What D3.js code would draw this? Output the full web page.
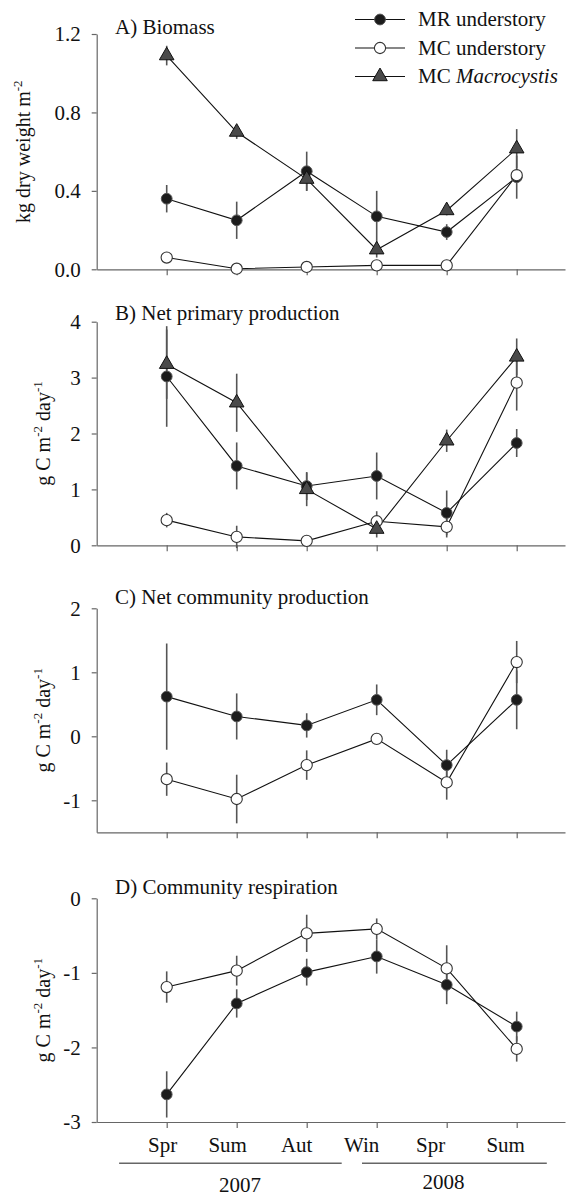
<!DOCTYPE html>
<html>
<head>
<meta charset="utf-8">
<script src="https://cdn.jsdelivr.net/npm/d3@7"></script>
<style>
  html, body { margin: 0; padding: 0; background: #fff; }
  svg { display: block; }
  svg text { font-family: "Liberation Serif", "Times New Roman", serif; }
</style>
</head>
<body>
<svg id="chart" width="584" height="1196"></svg>
<script>
// Sampling seasons and years
const seasons = ["Spr", "Sum", "Aut", "Win", "Spr", "Sum"];
const years = ["2007", "2008"];
const seriesNames = ["MR understory", "MC understory", "MC Macrocystis"];

// A) Biomass, kg dry weight m-2 (mean, SE)
const biomassMR      = [0.36, 0.25, 0.50, 0.27, 0.19, 0.47];
const biomassMRErr   = [0.07, 0.095, 0.10, 0.13, 0.04, 0.11];
const biomassMC      = [0.06, 0.003, 0.012, 0.02, 0.02, 0.48];
const biomassMCErr   = [0.012, 0.004, 0.006, 0.008, 0.008, 0.03];
const biomassMacro   = [1.09, 0.70, 0.46, 0.10, 0.30, 0.615];
const biomassMacroErr= [0.05, 0.035, 0.06, 0.04, 0.025, 0.10];

// B) Net primary production, g C m-2 day-1
const nppMR      = [3.02, 1.42, 1.06, 1.24, 0.58, 1.83];
const nppMRErr   = [0.90, 0.42, 0.25, 0.42, 0.40, 0.25];
const nppMC      = [0.45, 0.15, 0.08, 0.43, 0.33, 2.91];
const nppMCErr   = [0.13, 0.20, 0.05, 0.18, 0.19, 0.50];
const nppMacro   = [3.24, 2.55, 1.00, 0.29, 1.87, 3.37];
const nppMacroErr= [0.62, 0.52, 0.30, 0.15, 0.20, 0.33];

// C) Net community production, g C m-2 day-1
const ncpMR    = [0.62, 0.31, 0.17, 0.57, -0.45, 0.57];
const ncpMRErr = [0.83, 0.36, 0.19, 0.24, 0.24, 0.46];
const ncpMC    = [-0.67, -0.98, -0.45, -0.04, -0.72, 1.16];
const ncpMCErr = [0.26, 0.38, 0.23, 0.03, 0.27, 0.33];

// D) Community respiration, g C m-2 day-1
const respMR    = [-2.63, -1.41, -0.99, -0.78, -1.16, -1.72];
const respMRErr = [0.31, 0.19, 0.18, 0.23, 0.26, 0.20];
const respMC    = [-1.19, -0.97, -0.47, -0.41, -0.94, -2.02];
const respMCErr = [0.21, 0.20, 0.25, 0.14, 0.31, 0.17];

// Y ticks per panel
const ticksA = [0, 0.4, 0.8, 1.2];
const ticksB = [0, 1, 2, 3, 4];
const ticksC = [-1, 0, 1, 2];
const ticksD = [-3, -2, -1, 0];

// ---------------- layout ----------------
const svg = d3.select("#chart");
const SERIF = "Liberation Serif, Times New Roman, serif";
const FONT = 21;
const axisColor = "#666";
const errColor = "#555";

// shared x scale: season index -> pixel
const x = d3.scaleLinear().domain([-1, 5.69]).range([96.7, 565]);

const panels = [
  { title: "A) Biomass", titleY: 34, top: 34, bottom: 269.3, domain: [0, 1.2], ticks: ticksA, fmt: d3.format(".1f"),
    ytitleX: 30,
    series: [
      { kind: "filled", v: biomassMR, e: biomassMRErr },
      { kind: "open", v: biomassMC, e: biomassMCErr },
      { kind: "tri", v: biomassMacro, e: biomassMacroErr }
    ] },
  { title: "B) Net primary production", titleY: 320, top: 321.7, bottom: 545.3, domain: [0, 4], ticks: ticksB, fmt: d3.format("d"),
    ytitleX: 50,
    series: [
      { kind: "filled", v: nppMR, e: nppMRErr },
      { kind: "open", v: nppMC, e: nppMCErr },
      { kind: "tri", v: nppMacro, e: nppMacroErr }
    ] },
  { title: "C) Net community production", titleY: 603.5, top: 608.3, bottom: 832.3, domain: [-1.5, 2], ticks: ticksC, fmt: d3.format("d"),
    ytitleX: 50,
    series: [
      { kind: "filled", v: ncpMR, e: ncpMRErr },
      { kind: "open", v: ncpMC, e: ncpMCErr }
    ] },
  { title: "D) Community respiration", titleY: 893.5, top: 898.3, bottom: 1122, domain: [-3, 0], ticks: ticksD, fmt: d3.format("d"),
    ytitleX: 50,
    series: [
      { kind: "filled", v: respMR, e: respMRErr },
      { kind: "open", v: respMC, e: respMCErr }
    ] }
];

const triSym = d3.symbol().type(d3.symbolTriangle).size(92);

function drawMarker(g, kind, cx, cy) {
  if (kind === "filled") {
    g.append("circle").attr("cx", cx).attr("cy", cy).attr("r", 5.4)
      .attr("fill", "#1c1c1c").attr("stroke", "#555").attr("stroke-width", 1);
  } else if (kind === "open") {
    g.append("circle").attr("cx", cx).attr("cy", cy).attr("r", 5.6)
      .attr("fill", "#fff").attr("stroke", "#333").attr("stroke-width", 1.1);
  } else {
    g.append("path").attr("d", triSym).attr("transform", `translate(${cx},${cy})`)
      .attr("fill", "#4a4a4a").attr("stroke", "#111").attr("stroke-width", 1);
  }
}

panels.forEach((p, pi) => {
  const y = d3.scaleLinear().domain(p.domain).range([p.bottom, p.top]);
  const g = svg.append("g");

  // y axis
  const yAxis = d3.axisLeft(y).tickValues(p.ticks).tickSizeOuter(0).tickSizeInner(5).tickPadding(11)
    .tickFormat(d => p.fmt(d).replace("\u2212", "-"));
  const ya = g.append("g").attr("transform", `translate(${x(-1)},0)`).call(yAxis)
    .attr("font-family", SERIF).attr("font-size", FONT);
  ya.select(".domain").attr("stroke", axisColor).attr("stroke-width", 1.2);
  ya.selectAll(".tick line").attr("stroke", axisColor).attr("stroke-width", 1.2);
  ya.selectAll(".tick text").attr("fill", "#111").attr("font-size", FONT).attr("font-family", SERIF);

  // x axis
  const xAxis = d3.axisBottom(x).tickValues(d3.range(seasons.length)).tickSizeOuter(0).tickSizeInner(6)
    .tickFormat("");
  const xa = g.append("g").attr("transform", `translate(0,${p.bottom})`).call(xAxis);
  xa.select(".domain").attr("stroke", axisColor).attr("stroke-width", 1.2);
  xa.selectAll(".tick line").attr("stroke", axisColor).attr("stroke-width", 1.2);

  // panel title
  g.append("text").attr("x", 115).attr("y", p.titleY)
    .attr("font-family", SERIF).attr("font-size", FONT).attr("fill", "#111").text(p.title);

  // y axis title
  const cy = (p.top + p.bottom) / 2;
  const yt = g.append("text").attr("transform", `translate(${p.ytitleX},${cy}) rotate(-90)`)
    .attr("text-anchor", "middle").attr("font-family", SERIF).attr("font-size", 20).attr("fill", "#111");
  if (pi === 0) {
    yt.append("tspan").text("kg dry weight m");
    yt.append("tspan").attr("font-size", 13).attr("dy", -8).text("-2");
  } else {
    yt.append("tspan").text("g C m");
    yt.append("tspan").attr("font-size", 13).attr("dy", -8).text("-2");
    yt.append("tspan").attr("dy", 8).text(" day");
    yt.append("tspan").attr("font-size", 13).attr("dy", -8).text("-1");
  }

  const line = d3.line().x((d, i) => x(i)).y(d => y(d));

  // error bars
  p.series.forEach(s => {
    g.append("g").selectAll("line").data(s.v).join("line")
      .attr("x1", (d, i) => x(i)).attr("x2", (d, i) => x(i))
      .attr("y1", (d, i) => y(d - s.e[i])).attr("y2", (d, i) => y(d + s.e[i]))
      .attr("stroke", errColor).attr("stroke-width", 1.6);
  });
  // connecting lines
  p.series.forEach(s => {
    g.append("path").datum(s.v).attr("d", line)
      .attr("fill", "none").attr("stroke", "#111").attr("stroke-width", 1.1);
  });
  // markers
  p.series.forEach(s => {
    const mg = g.append("g");
    s.v.forEach((d, i) => drawMarker(mg, s.kind, x(i), y(d)));
  });

  // season labels under bottom panel
  if (pi === panels.length - 1) {
    const nudge = [-4, -9, -10, -15, -16, -11];
    g.append("g").selectAll("text").data(seasons).join("text")
      .attr("x", (d, i) => x(i) + nudge[i]).attr("y", p.bottom + 29.5)
      .attr("text-anchor", "middle").attr("font-family", SERIF).attr("font-size", FONT)
      .attr("fill", "#111").text(d => d);

    // year brackets
    const spans = [[-0.68, 2.5], [2.79, 5.43]];
    const yearBase = [1191.5, 1188.5];
    spans.forEach((sp, k) => {
      g.append("line").attr("x1", x(sp[0])).attr("x2", x(sp[1]))
        .attr("y1", 1163.3).attr("y2", 1163.3).attr("stroke", axisColor).attr("stroke-width", 1.5);
      g.append("text").attr("x", (x(sp[0]) + x(sp[1])) / 2 + (k === 0 ? 9.5 : -11))
        .attr("y", yearBase[k]).attr("text-anchor", "middle").attr("font-family", SERIF)
        .attr("font-size", FONT).attr("fill", "#111").text(years[k]);
    });
  }
});

// legend
const legendRows = [19.5, 48, 76.5];
const kinds = ["filled", "open", "tri"];
const lg = svg.append("g");
seriesNames.forEach((name, i) => {
  const ly = legendRows[i];
  lg.append("line").attr("x1", 355).attr("x2", 405).attr("y1", ly).attr("y2", ly)
    .attr("stroke", "#111").attr("stroke-width", 1.1);
  drawMarker(lg, kinds[i], 380, ly);
  const t = lg.append("text").attr("x", 418).attr("y", ly).attr("dy", "0.33em")
    .attr("font-family", SERIF).attr("font-size", FONT).attr("fill", "#111");
  if (name.indexOf("Macrocystis") >= 0) {
    t.append("tspan").text("MC ");
    t.append("tspan").attr("font-style", "italic").text("Macrocystis");
  } else {
    t.text(name);
  }
});
</script>
</body>
</html>
